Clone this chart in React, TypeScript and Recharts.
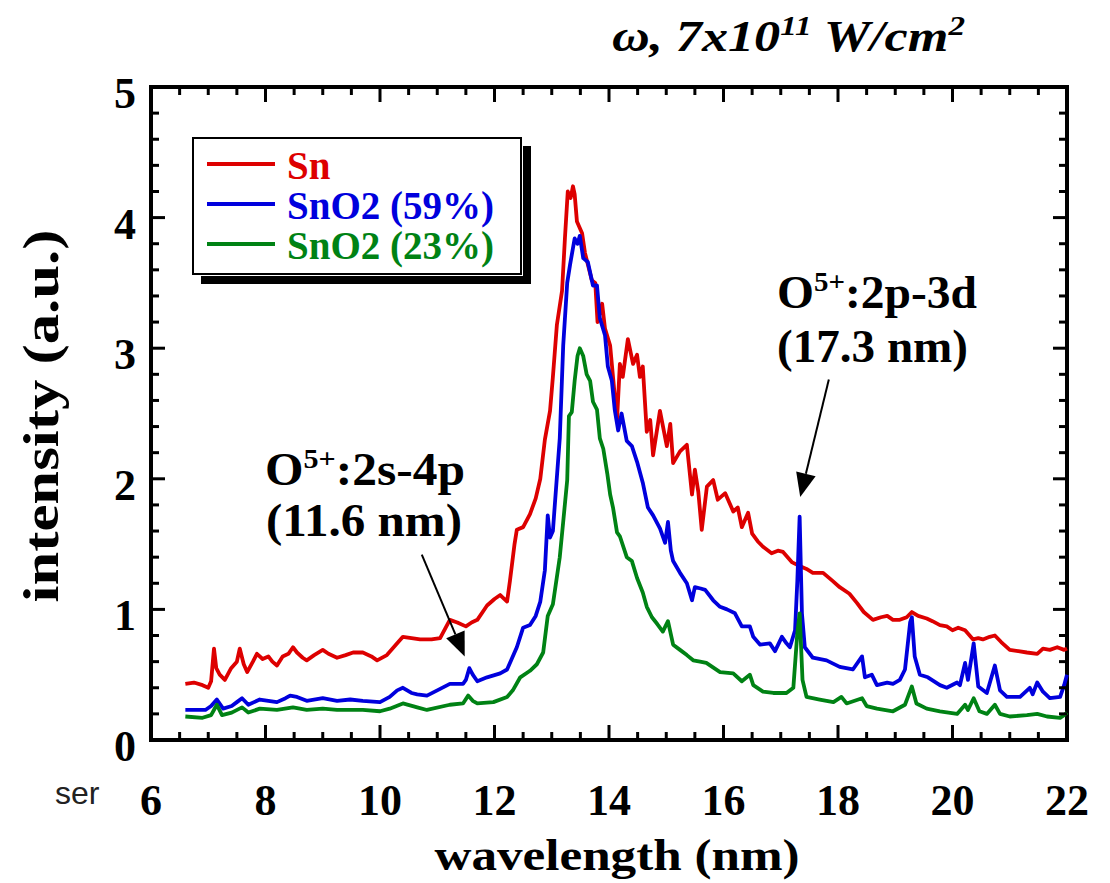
import React from "react";
import { LineChart, Line, XAxis, YAxis, ReferenceArea, ReferenceLine, Legend } from "recharts";

// wavelength (nm), intensity (a.u.)
const snSpectrum: [number, number][] = [
  [6.6, 0.43], [6.75, 0.44], [6.9, 0.42], [7.0, 0.4], [7.05, 0.45], [7.1, 0.7], [7.14, 0.55], [7.2, 0.5],
  [7.29, 0.46], [7.4, 0.55], [7.5, 0.6], [7.55, 0.7], [7.62, 0.58], [7.68, 0.52], [7.78, 0.6], [7.85, 0.66],
  [7.95, 0.62], [8.05, 0.64], [8.12, 0.6], [8.2, 0.57], [8.3, 0.64], [8.4, 0.66], [8.48, 0.71], [8.55, 0.67],
  [8.65, 0.63], [8.72, 0.61], [8.85, 0.65], [9.0, 0.69], [9.1, 0.66], [9.25, 0.63], [9.4, 0.65], [9.53, 0.67],
  [9.7, 0.67], [9.85, 0.64], [9.95, 0.61], [10.12, 0.65], [10.3, 0.74], [10.4, 0.79], [10.55, 0.78],
  [10.7, 0.77], [10.9, 0.77], [11.05, 0.78], [11.22, 0.92], [11.35, 0.9], [11.5, 0.87], [11.6, 0.9],
  [11.7, 0.92], [11.87, 1.03], [12.0, 1.08], [12.1, 1.11], [12.22, 1.06], [12.27, 1.22], [12.35, 1.5],
  [12.39, 1.61], [12.5, 1.63], [12.62, 1.73], [12.72, 1.85], [12.8, 2.0], [12.88, 2.3], [12.97, 2.52],
  [13.02, 2.78], [13.09, 3.18], [13.18, 3.44], [13.23, 3.84], [13.28, 4.2], [13.33, 4.15], [13.37, 4.24],
  [13.4, 4.18], [13.44, 3.97], [13.53, 3.88], [13.58, 3.73], [13.7, 3.52], [13.76, 3.5], [13.8, 3.2],
  [13.88, 3.34], [13.93, 3.15], [14.02, 3.02], [14.07, 2.78], [14.14, 2.45], [14.19, 2.88], [14.24, 2.78],
  [14.33, 3.07], [14.42, 2.88], [14.49, 2.95], [14.54, 2.78], [14.59, 2.86], [14.66, 2.36], [14.72, 2.45],
  [14.77, 2.18], [14.89, 2.52], [15.01, 2.25], [15.07, 2.42], [15.12, 2.12], [15.24, 2.21], [15.36, 2.26],
  [15.45, 1.88], [15.5, 2.07], [15.56, 1.9], [15.62, 1.61], [15.71, 1.94], [15.82, 1.99], [15.9, 1.84],
  [16.03, 1.89], [16.17, 1.75], [16.25, 1.78], [16.32, 1.63], [16.43, 1.74], [16.5, 1.58], [16.6, 1.52],
  [16.69, 1.48], [16.84, 1.43], [16.95, 1.45], [17.04, 1.44], [17.2, 1.36], [17.34, 1.33], [17.45, 1.31],
  [17.56, 1.28], [17.74, 1.28], [17.9, 1.22], [18.03, 1.17], [18.2, 1.12], [18.33, 1.05], [18.45, 0.98],
  [18.61, 0.92], [18.75, 0.94], [18.86, 0.95], [18.96, 0.92], [19.08, 0.92], [19.2, 0.94], [19.29, 0.98],
  [19.4, 0.95], [19.55, 0.93], [19.65, 0.91], [19.78, 0.88], [19.9, 0.87], [20.0, 0.84], [20.1, 0.86],
  [20.22, 0.84], [20.36, 0.77], [20.45, 0.78], [20.53, 0.77], [20.65, 0.79], [20.74, 0.8], [20.85, 0.75],
  [21.0, 0.69], [21.15, 0.68], [21.3, 0.67], [21.48, 0.66], [21.58, 0.7], [21.7, 0.69], [21.83, 0.71],
  [21.95, 0.69], [22.0, 0.7],
];

const sno2HighSpectrum: [number, number][] = [
  [6.6, 0.23], [6.8, 0.23], [6.95, 0.23], [7.05, 0.26], [7.15, 0.31], [7.26, 0.24], [7.41, 0.26], [7.5, 0.29],
  [7.59, 0.32], [7.7, 0.27], [7.9, 0.31], [8.05, 0.3], [8.2, 0.29], [8.35, 0.32], [8.43, 0.34], [8.55, 0.33],
  [8.72, 0.3], [9.0, 0.32], [9.25, 0.3], [9.48, 0.31], [9.7, 0.3], [10.0, 0.29], [10.17, 0.33], [10.3, 0.38],
  [10.4, 0.4], [10.55, 0.36], [10.65, 0.35], [10.82, 0.34], [11.0, 0.38], [11.22, 0.43], [11.45, 0.43],
  [11.5, 0.46], [11.56, 0.55], [11.62, 0.5], [11.7, 0.45], [11.87, 0.48], [12.1, 0.51], [12.22, 0.54],
  [12.3, 0.62], [12.39, 0.71], [12.5, 0.86], [12.62, 0.88], [12.72, 0.95], [12.8, 1.06], [12.88, 1.3],
  [12.93, 1.72], [12.97, 1.55], [13.02, 1.6], [13.05, 1.78], [13.14, 2.31], [13.2, 3.02], [13.27, 3.5],
  [13.32, 3.64], [13.4, 3.84], [13.45, 3.8], [13.49, 3.86], [13.55, 3.69], [13.63, 3.66], [13.72, 3.48],
  [13.79, 3.48], [13.84, 3.23], [13.93, 3.1], [13.98, 2.86], [14.05, 2.75], [14.1, 2.53], [14.16, 2.37],
  [14.22, 2.5], [14.31, 2.29], [14.4, 2.25], [14.49, 2.13], [14.59, 1.97], [14.68, 1.78], [14.77, 1.72],
  [14.89, 1.62], [14.98, 1.51], [15.03, 1.67], [15.08, 1.45], [15.12, 1.37], [15.24, 1.28], [15.36, 1.2],
  [15.45, 1.07], [15.5, 1.17], [15.6, 1.16], [15.68, 1.15], [15.82, 1.07], [15.94, 1.02], [16.06, 1.0],
  [16.2, 0.97], [16.32, 0.87], [16.46, 0.87], [16.52, 0.79], [16.64, 0.73], [16.81, 0.74], [16.9, 0.68],
  [17.02, 0.79], [17.1, 0.74], [17.16, 0.71], [17.25, 0.84], [17.29, 1.22], [17.33, 1.71], [17.37, 0.97],
  [17.42, 0.71], [17.56, 0.63], [17.8, 0.61], [18.03, 0.56], [18.26, 0.54], [18.42, 0.64], [18.47, 0.48],
  [18.59, 0.5], [18.68, 0.42], [18.86, 0.44], [18.96, 0.43], [19.08, 0.46], [19.17, 0.54], [19.26, 0.9],
  [19.29, 0.94], [19.34, 0.64], [19.43, 0.5], [19.57, 0.48], [19.78, 0.42], [19.9, 0.4], [20.08, 0.44],
  [20.13, 0.42], [20.22, 0.59], [20.27, 0.46], [20.37, 0.74], [20.45, 0.41], [20.6, 0.36], [20.74, 0.57],
  [20.83, 0.38], [20.95, 0.33], [21.18, 0.33], [21.35, 0.4], [21.4, 0.35], [21.48, 0.44], [21.58, 0.37],
  [21.7, 0.32], [21.88, 0.33], [21.95, 0.42], [22.0, 0.5],
];

const sno2LowSpectrum: [number, number][] = [
  [6.6, 0.18], [6.9, 0.17], [7.05, 0.19], [7.15, 0.27], [7.24, 0.19], [7.41, 0.21], [7.59, 0.25], [7.7, 0.21],
  [7.9, 0.24], [8.2, 0.23], [8.48, 0.25], [8.72, 0.23], [9.0, 0.24], [9.25, 0.23], [9.48, 0.23], [9.7, 0.23],
  [10.0, 0.22], [10.17, 0.24], [10.4, 0.28], [10.65, 0.25], [10.82, 0.23], [11.22, 0.27], [11.45, 0.28],
  [11.54, 0.34], [11.62, 0.3], [11.7, 0.28], [11.98, 0.29], [12.22, 0.33], [12.32, 0.38], [12.45, 0.48],
  [12.62, 0.53], [12.74, 0.58], [12.85, 0.67], [12.93, 0.95], [13.02, 1.04], [13.14, 1.4], [13.2, 1.67],
  [13.27, 1.99], [13.3, 2.48], [13.35, 2.51], [13.4, 2.75], [13.45, 2.94], [13.49, 3.0], [13.55, 2.94],
  [13.61, 2.8], [13.67, 2.75], [13.72, 2.59], [13.79, 2.53], [13.84, 2.31], [13.9, 2.23], [13.97, 2.04],
  [14.02, 1.88], [14.07, 1.78], [14.14, 1.59], [14.19, 1.56], [14.31, 1.4], [14.4, 1.37], [14.49, 1.24],
  [14.59, 1.13], [14.66, 1.02], [14.75, 0.94], [14.84, 0.89], [14.94, 0.83], [15.03, 0.91], [15.12, 0.73],
  [15.24, 0.69], [15.36, 0.65], [15.47, 0.61], [15.59, 0.6], [15.7, 0.59], [15.94, 0.52], [16.17, 0.51],
  [16.32, 0.45], [16.46, 0.5], [16.52, 0.42], [16.69, 0.37], [16.87, 0.36], [17.1, 0.36], [17.22, 0.4],
  [17.29, 0.82], [17.33, 0.97], [17.38, 0.46], [17.45, 0.33], [17.68, 0.31], [17.92, 0.29], [18.06, 0.33],
  [18.15, 0.28], [18.42, 0.32], [18.5, 0.26], [18.68, 0.24], [18.96, 0.22], [19.17, 0.27], [19.29, 0.41],
  [19.37, 0.28], [19.55, 0.24], [19.78, 0.22], [20.08, 0.2], [20.22, 0.27], [20.27, 0.23], [20.37, 0.32],
  [20.47, 0.22], [20.6, 0.2], [20.74, 0.27], [20.83, 0.2], [21.0, 0.18], [21.3, 0.19], [21.48, 0.2],
  [21.65, 0.18], [21.88, 0.17], [21.95, 0.19], [22.0, 0.21],
];

const seriesNames = ["Sn", "SnO2 (59%)", "SnO2 (23%)"];
const seriesColors = ["#dd0000", "#0000dd", "#008214"];

const xTicks = [6, 6.5, 7, 7.5, 8, 8.5, 9, 9.5, 10, 10.5, 11, 11.5, 12, 12.5, 13, 13.5, 14, 14.5, 15, 15.5, 16, 16.5, 17, 17.5, 18, 18.5, 19, 19.5, 20, 20.5, 21, 21.5, 22];
const yTicks = [0, 0.2, 0.4, 0.6, 0.8, 1, 1.2, 1.4, 1.6, 1.8, 2, 2.2, 2.4, 2.6, 2.8, 3, 3.2, 3.4, 3.6, 3.8, 4, 4.2, 4.4, 4.6, 4.8, 5];

// annotation arrows, in data coordinates
const arrow2s4p = [{ x: 10.73, y: 1.42 }, { x: 11.48, y: 0.64 }];
const arrow2p3d = [{ x: 17.84, y: 2.76 }, { x: 17.34, y: 1.86 }];

const toRows = (s: [number, number][]) => s.map(([wl, v]) => ({ wl, v }));

const SERIF = '"Liberation Serif", "Times New Roman", serif';
const PLOT_W = 916;
const PLOT_H = 653;

const XTick = (props: any) => {
  const { x, y, payload } = props;
  const v = payload.value;
  const major = v % 2 === 0;
  const len = major ? 15 : 8;
  return (
    <g>
      <line x1={x} x2={x} y1={y} y2={y - len} stroke="#000" strokeWidth={3} />
      <line x1={x} x2={x} y1={y - PLOT_H} y2={y - PLOT_H + len} stroke="#000" strokeWidth={3} />
      {major && (
        <text x={x} y={y + 75} textAnchor="middle" fontFamily={SERIF} fontWeight="bold" fontSize={44} fill="#000">
          {v}
        </text>
      )}
    </g>
  );
};

const YTick = (props: any) => {
  const { x, y, payload } = props;
  const v = payload.value;
  const major = Number.isInteger(v);
  const len = major ? 14 : 8;
  return (
    <g>
      <line x1={x} x2={x + len} y1={y} y2={y} stroke="#000" strokeWidth={3} />
      <line x1={x + PLOT_W} x2={x + PLOT_W - len} y1={y} y2={y} stroke="#000" strokeWidth={3} />
      {major && (
        <text x={x - 15} y={y + 21} textAnchor="end" fontFamily={SERIF} fontWeight="bold" fontSize={44} fill="#000">
          {v}
        </text>
      )}
    </g>
  );
};

const Arrow = (p: any) => {
  const { x1, y1, x2, y2 } = p;
  const dx = x2 - x1;
  const dy = y2 - y1;
  const L = Math.hypot(dx, dy) || 1;
  const ux = dx / L;
  const uy = dy / L;
  const hl = 24;
  const hw = 10;
  const bx = x2 - ux * hl;
  const by = y2 - uy * hl;
  return (
    <g>
      <line x1={x1} y1={y1} x2={bx} y2={by} stroke="#000" strokeWidth={2} />
      <polygon
        points={`${x2},${y2} ${bx - uy * hw},${by + ux * hw} ${bx + uy * hw},${by - ux * hw}`}
        fill="#000"
      />
    </g>
  );
};

const LegendBox = () => (
  <div
    style={{
      position: "relative",
      width: 330,
      height: 138,
      boxSizing: "border-box",
      border: "2px solid #000",
      background: "#fff",
      boxShadow: "1px 1px 0 #fff, 9px 9px 0 #000",
    }}
  >
    {seriesNames.map((name, i) => (
      <React.Fragment key={name}>
        <div style={{ position: "absolute", left: 13, top: 23 + 40 * i, width: 68, height: 4, background: seriesColors[i] }} />
        <div
          style={{
            position: "absolute",
            left: 93,
            top: 9 + 40 * i,
            height: 36,
            fontFamily: SERIF,
            fontWeight: "bold",
            fontSize: 39,
            lineHeight: "36px",
            whiteSpace: "nowrap",
            color: seriesColors[i],
          }}
        >
          {name}
        </div>
      </React.Fragment>
    ))}
  </div>
);

const spectra = [snSpectrum, sno2HighSpectrum, sno2LowSpectrum];

export default function App() {
  return (
    <div style={{ position: "absolute", left: 0, top: 0, width: 1110, height: 883, background: "#fff" }}>
      <LineChart width={1110} height={883} margin={{ top: 87, right: 43, bottom: 113, left: 121 }}>
        <XAxis
          type="number"
          dataKey="wl"
          domain={[6, 22]}
          ticks={xTicks}
          interval={0}
          height={30}
          tickSize={0}
          tickMargin={0}
          axisLine={false}
          tickLine={false}
          tick={<XTick />}
        />
        <YAxis
          type="number"
          domain={[0, 5]}
          ticks={yTicks}
          interval={0}
          width={30}
          tickSize={0}
          tickMargin={0}
          axisLine={false}
          tickLine={false}
          tick={<YTick />}
        />
        {spectra.map((s, i) => (
          <Line
            key={seriesNames[i]}
            data={toRows(s)}
            dataKey="v"
            name={seriesNames[i]}
            type="linear"
            stroke={seriesColors[i]}
            strokeWidth={3.8}
            strokeLinejoin="round"
            dot={false}
            isAnimationActive={false}
          />
        ))}
        <ReferenceLine segment={arrow2s4p} shape={Arrow} ifOverflow="visible" />
        <ReferenceLine segment={arrow2p3d} shape={Arrow} ifOverflow="visible" />
        <ReferenceArea x1={6} x2={22} y1={0} y2={5} fill="none" stroke="#000" strokeWidth={4} ifOverflow="visible" />
        <Legend
          layout="vertical"
          align="center"
          verticalAlign="middle"
          content={<LegendBox />}
          wrapperStyle={{ left: 192, top: 137, width: 340, height: 150 }}
        />
      </LineChart>
      <svg width={1110} height={883} style={{ position: "absolute", left: 0, top: 0, pointerEvents: "none" }}>
        <text x={612} y={51} fontFamily={SERIF} fontStyle="italic" fontWeight="bold" fontSize={44} textLength={353} lengthAdjust="spacingAndGlyphs">
          ω, 7x10<tspan dy={-16} fontSize={28}>11</tspan>
          <tspan dy={16}> W/cm</tspan>
          <tspan dy={-16} fontSize={28}>2</tspan>
        </text>
        <text transform="translate(58,416) rotate(-90)" textAnchor="middle" fontFamily={SERIF} fontWeight="bold" fontSize={50} textLength={373} lengthAdjust="spacingAndGlyphs">
          intensity (a.u.)
        </text>
        <text x={617} y={870} textAnchor="middle" fontFamily={SERIF} fontWeight="bold" fontSize={45} textLength={365} lengthAdjust="spacingAndGlyphs">
          wavelength (nm)
        </text>
        <text x={265} y={485} fontFamily={SERIF} fontWeight="bold" fontSize={46} textLength={200} lengthAdjust="spacingAndGlyphs">
          O<tspan dy={-17} fontSize={28}>5+</tspan>
          <tspan dy={17}>:2s-4p</tspan>
        </text>
        <text x={266} y={536} fontFamily={SERIF} fontWeight="bold" fontSize={46} textLength={196} lengthAdjust="spacingAndGlyphs">
          (11.6 nm)
        </text>
        <text x={777} y={308} fontFamily={SERIF} fontWeight="bold" fontSize={46} textLength={200} lengthAdjust="spacingAndGlyphs">
          O<tspan dy={-17} fontSize={28}>5+</tspan>
          <tspan dy={17}>:2p-3d</tspan>
        </text>
        <text x={777} y={362} fontFamily={SERIF} fontWeight="bold" fontSize={46} textLength={191} lengthAdjust="spacingAndGlyphs">
          (17.3 nm)
        </text>
        <text x={55} y={804} fontFamily='"Liberation Sans", Arial, sans-serif' fontSize={32} fill="#222">
          ser
        </text>
      </svg>
    </div>
  );
}
